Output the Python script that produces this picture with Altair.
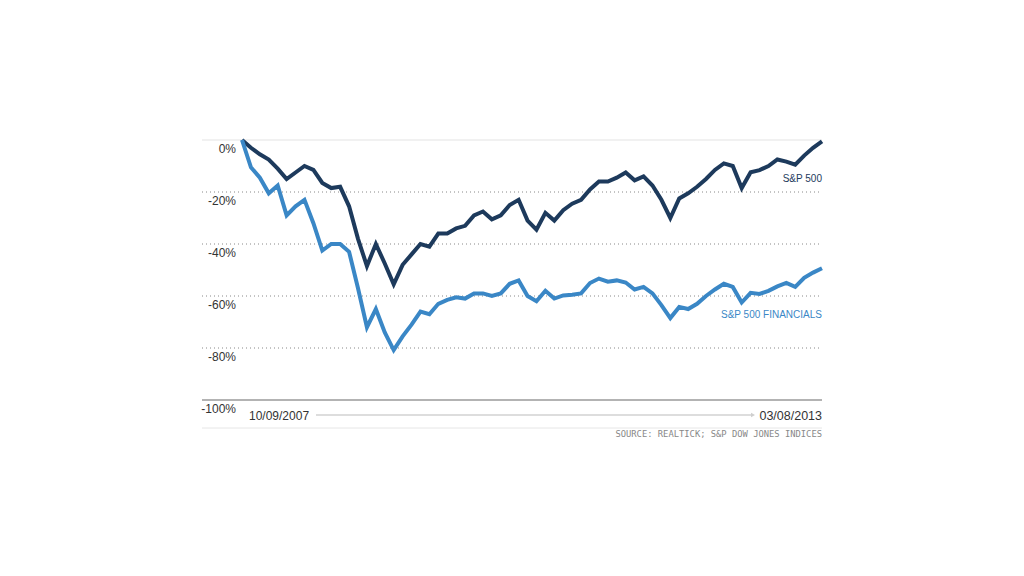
import altair as alt
import pandas as pd

# Monthly points, 10/09/2007 .. 03/08/2013 (cumulative % change)
sp500 = [0, -3, -5.5, -7.5, -11, -15, -12.5, -10, -11.5, -16.5,
         -18.5, -18, -25.5, -38, -48.5, -40, -47.5, -55.5, -48, -44,
         -40, -41, -36, -36, -34, -33, -29, -27.5, -30.5, -29,
         -25, -23, -31, -34.5, -28, -31, -27, -24.5, -23, -19,
         -16, -16, -14.5, -12.5, -15.5, -14, -17.5, -23, -30, -22.5,
         -20.5, -18, -15, -11.5, -9, -10, -18.5, -12.4, -11.6, -10,
         -7.5, -8.3, -9.5, -6, -3, -0.5]
financials = [0, -10.5, -14.5, -20.5, -17.5, -29, -25.5, -23, -32, -42.5,
              -40, -40, -43, -57, -72, -65, -74, -80.8, -75.5, -71,
              -66, -67, -63, -61.5, -60.5, -61, -59, -59, -60, -59,
              -55.3, -54, -60, -62, -58, -61, -59.8, -59.5, -59, -55,
              -53.3, -54.5, -54, -54.8, -57.5, -56.5, -59, -63.5, -68.5, -64.2,
              -65, -63, -60, -57.5, -55.3, -56.5, -62.5, -58.8, -59.2, -58,
              -56.3, -55, -56.5, -53, -51, -49.3]
series_names = ["S&P 500", "S&P 500 FINANCIALS"]
series_colors = ["#1d3a5c", "#3a87c6"]
dotted_ticks = [-20, -40, -60, -80]
tick_values = [0, -20, -40, -60, -80, -100]
tick_labels = ["0%", "-20%", "-40%", "-60%", "-80%", "-100%"]
start_label = "10/09/2007"
end_label = "03/08/2013"
source_text = "SOURCE: REALTICK; S&P DOW JONES INDICES"

rows = []
for i, v in enumerate(sp500):
    rows.append({"i": i, "v": v, "s": series_names[0]})
for i, v in enumerate(financials):
    rows.append({"i": i, "v": v, "s": series_names[1]})
df = pd.DataFrame(rows)

n = len(sp500)
xs = alt.Scale(domain=[-4.484, n - 1], nice=False, zero=False)
ys = alt.Scale(domain=[-100, 0], nice=False, zero=False)
cs = alt.Scale(domain=series_names, range=series_colors)

W, H = 620, 260
font = "Liberation Sans"

ticks_df = pd.DataFrame({"v": tick_values, "lab": tick_labels})
dot_df = pd.DataFrame({"v": dotted_ticks})

top_rule = alt.Chart(pd.DataFrame({"v": [0]})).mark_rule(color="#e3e3e3", strokeWidth=1).encode(
    y=alt.Y("v:Q", scale=ys, axis=None), x=alt.value(0), x2=alt.value(W))
bottom_rule = alt.Chart(pd.DataFrame({"v": [-100]})).mark_rule(color="#9a9a9a", strokeWidth=1.3).encode(
    y=alt.Y("v:Q", scale=ys, axis=None), x=alt.value(0), x2=alt.value(W))
grid = alt.Chart(dot_df).mark_rule(color="#888", strokeWidth=1, strokeDash=[1, 3]).encode(
    y=alt.Y("v:Q", scale=ys, axis=None), x=alt.value(0), x2=alt.value(W))
ylabels = alt.Chart(ticks_df).mark_text(align="right", baseline="middle", dy=9, font=font,
                                        fontSize=12, color="#333").encode(
    y=alt.Y("v:Q", scale=ys, axis=None), x=alt.value(34), text="lab:N")

lines = alt.Chart(df).mark_line(strokeWidth=4, strokeJoin="miter", strokeCap="butt").encode(
    x=alt.X("i:Q", scale=xs, axis=None),
    y=alt.Y("v:Q", scale=ys, axis=None),
    color=alt.Color("s:N", scale=cs, legend=None),
    detail="s:N")

last = df[df["i"] == n - 1]
lab_sp = alt.Chart(last[last["s"] == series_names[0]]).mark_text(
    align="right", baseline="middle", dy=38, font=font, fontSize=10, color=series_colors[0]).encode(
    x=alt.X("i:Q", scale=xs, axis=None), y=alt.Y("v:Q", scale=ys, axis=None), text="s:N")
lab_fin = alt.Chart(last[last["s"] == series_names[1]]).mark_text(
    align="right", baseline="middle", dy=47, font=font, fontSize=10, color=series_colors[1]).encode(
    x=alt.X("i:Q", scale=xs, axis=None), y=alt.Y("v:Q", scale=ys, axis=None), text="s:N")

deco = pd.DataFrame({"k": [0]})
arrow_line = alt.Chart(deco).mark_rule(color="#bbb", strokeWidth=1).encode(
    x=alt.value(114), x2=alt.value(549), y=alt.value(275))
arrow_head = alt.Chart(deco).mark_point(shape="triangle-right", filled=True, size=22, color="#bbb").encode(
    x=alt.value(551), y=alt.value(275))
d1 = alt.Chart(pd.DataFrame({"t": [start_label]})).mark_text(
    align="left", baseline="middle", font=font, fontSize=12, color="#333").encode(
    x=alt.value(47), y=alt.value(276), text="t:N")
d2 = alt.Chart(pd.DataFrame({"t": [end_label]})).mark_text(
    align="right", baseline="middle", font=font, fontSize=12.5, color="#333").encode(
    x=alt.value(W), y=alt.value(276), text="t:N")
low_rule = alt.Chart(deco).mark_rule(color="#e6e6e6", strokeWidth=1).encode(
    x=alt.value(0), x2=alt.value(W), y=alt.value(288))
src = alt.Chart(pd.DataFrame({"t": [source_text]})).mark_text(
    align="right", baseline="middle", font="DejaVu Sans Mono", fontSize=8.8, color="#888").encode(
    x=alt.value(W), y=alt.value(294), text="t:N")

chart = alt.layer(top_rule, grid, bottom_rule, ylabels, lines, lab_sp, lab_fin,
                  arrow_line, arrow_head, d1, d2, low_rule, src).properties(
    width=W, height=H,
    autosize=alt.AutoSizeParams(type="none"),
    padding={"left": 194, "top": 132, "right": 186, "bottom": 160},
).configure(background="white").configure_view(stroke=None, strokeWidth=0)

chart.save("out.html", embed_options={"renderer": "svg", "actions": False})
